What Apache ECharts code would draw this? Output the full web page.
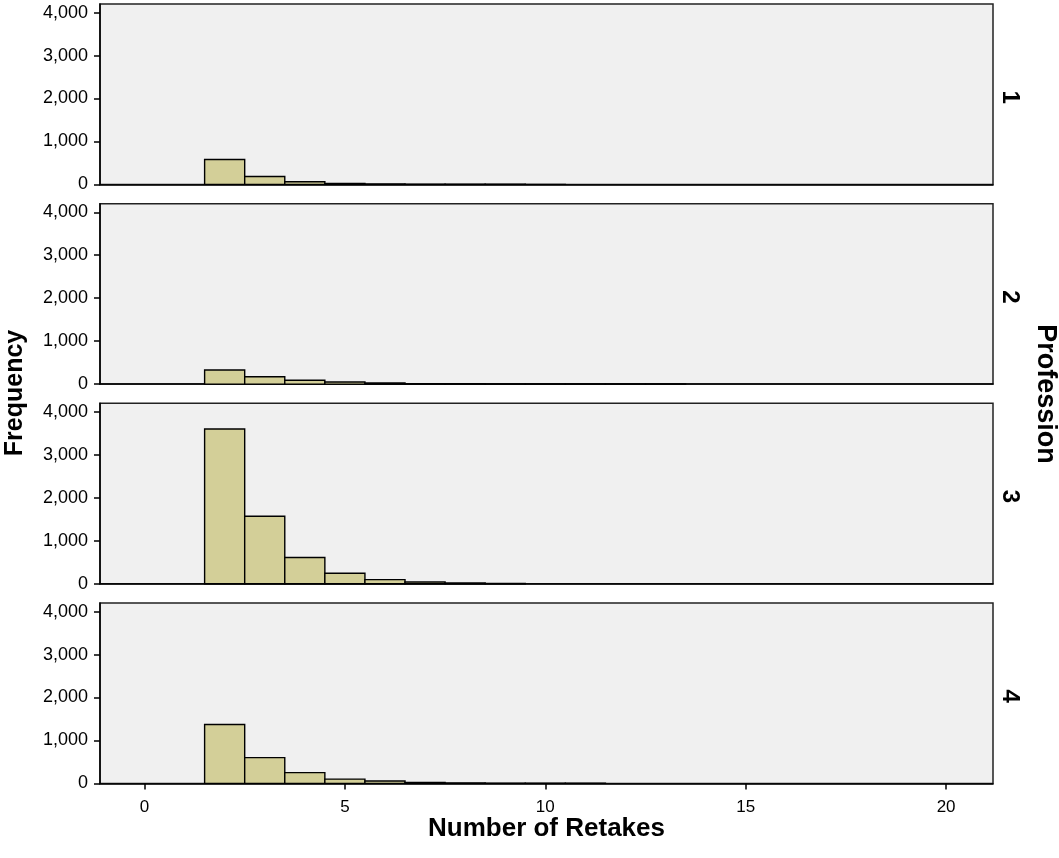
<!DOCTYPE html>
<html>
<head>
<meta charset="utf-8">
<script src="https://cdn.jsdelivr.net/npm/echarts@6/dist/echarts.min.js"></script>
<style>
  html, body { margin: 0; padding: 0; background: #ffffff; }
  #chart { width: 1059px; height: 858px; }
</style>
</head>
<body>
<div id="chart"></div>
<script>
// Histogram of retakes, one panel per profession
const professions = ['1', '2', '3', '4'];

// Bin centres (number of retakes) and frequencies for each profession
const retakes1 = [2, 3, 4, 5, 6, 7, 8, 9, 10];
const freq1 = [580, 185, 60, 25, 12, 6, 4, 2, 1];

const retakes2 = [2, 3, 4, 5, 6, 7, 8, 9, 10, 11, 12, 13];
const freq2 = [330, 170, 90, 50, 25, 12, 8, 5, 3, 2, 2, 1];

const retakes3 = [2, 3, 4, 5, 6, 7, 8, 9];
const freq3 = [3600, 1570, 610, 245, 95, 40, 15, 8];

const retakes4 = [2, 3, 4, 5, 6, 7, 8, 9, 10, 11];
const freq4 = [1370, 600, 250, 100, 55, 25, 12, 6, 4, 2];

const xTicks = [0, 5, 10, 15, 20];
const yTicks = [0, 1000, 2000, 3000, 4000];

const panels = [
  { x: retakes1, y: freq1 },
  { x: retakes2, y: freq2 },
  { x: retakes3, y: freq3 },
  { x: retakes4, y: freq4 }
];

const FONT = '"Liberation Sans", Arial, sans-serif';
const BAR_FILL = '#d3cf98';
const PANEL_BG = '#f0f0f0';

const gridTops = [4, 203.7, 403.3, 603];
const gridHeight = 180.4;

const grids = [], xAxes = [], yAxes = [], series = [], graphics = [];

panels.forEach((p, i) => {
  const last = i === panels.length - 1;
  grids.push({
    left: 100, right: 66, top: gridTops[i], height: gridHeight,
    show: true, backgroundColor: PANEL_BG,
    borderColor: '#222', borderWidth: 1.5
  });
  xAxes.push({
    type: 'value', gridIndex: i, min: -1.11, max: 21.17,
    axisLine: { show: true, onZero: false, lineStyle: { color: '#000', width: 1.5 } },
    axisTick: { show: last, customValues: xTicks, length: 6, lineStyle: { color: '#000', width: 1.5 } },
    axisLabel: { show: last, customValues: xTicks, color: '#000', fontFamily: FONT, fontSize: 17, margin: 15 },
    splitLine: { show: false },
    name: last ? 'Number of Retakes' : '',
    nameLocation: 'middle', nameGap: 24,
    nameTextStyle: { color: '#000', fontFamily: FONT, fontSize: 26, fontWeight: 'bold', verticalAlign: 'top' }
  });
  yAxes.push({
    type: 'value', gridIndex: i, min: 0, max: 4200,
    axisLine: { show: true, onZero: false, lineStyle: { color: '#000', width: 1.5 } },
    axisTick: { show: true, customValues: yTicks, length: 6, lineStyle: { color: '#000', width: 1.5 } },
    axisLabel: {
      customValues: yTicks, color: '#000', fontFamily: FONT, fontSize: 18, margin: 12,
      formatter: v => v.toLocaleString('en-US')
    },
    splitLine: { show: false }
  });
  series.push({
    type: 'custom', xAxisIndex: i, yAxisIndex: i,
    data: p.x.map((x, k) => [x, p.y[k]]),
    encode: { x: 0, y: 1 },
    renderItem: (params, api) => {
      const x = api.value(0), y = api.value(1);
      const p0 = api.coord([x - 0.5, 0]);
      const p1 = api.coord([x + 0.5, y]);
      return {
        type: 'rect',
        shape: { x: p0[0], y: p1[1], width: p1[0] - p0[0], height: p0[1] - p1[1] },
        style: { fill: BAR_FILL, stroke: '#000', lineWidth: 1.4 }
      };
    }
  });
  graphics.push({
    type: 'text', x: 1010, y: gridTops[i] + gridHeight / 2 + 3,
    rotation: -Math.PI / 2,
    style: { text: professions[i], font: 'bold 24px ' + FONT, fill: '#000', align: 'center', verticalAlign: 'middle' }
  });
});

graphics.push({
  type: 'text', x: 15, y: 393, rotation: Math.PI / 2,
  style: { text: 'Frequency', font: 'bold 25px ' + FONT, fill: '#000', align: 'center', verticalAlign: 'middle' }
});
graphics.push({
  type: 'text', x: 1045, y: 394, rotation: -Math.PI / 2,
  style: { text: 'Profession', font: 'bold 27px ' + FONT, fill: '#000', align: 'center', verticalAlign: 'middle' }
});

const chart = echarts.init(document.getElementById('chart'), null, { renderer: 'canvas' });
chart.setOption({
  animation: false,
  backgroundColor: '#ffffff',
  grid: grids,
  xAxis: xAxes,
  yAxis: yAxes,
  series: series,
  graphic: graphics
});
</script>
</body>
</html>
